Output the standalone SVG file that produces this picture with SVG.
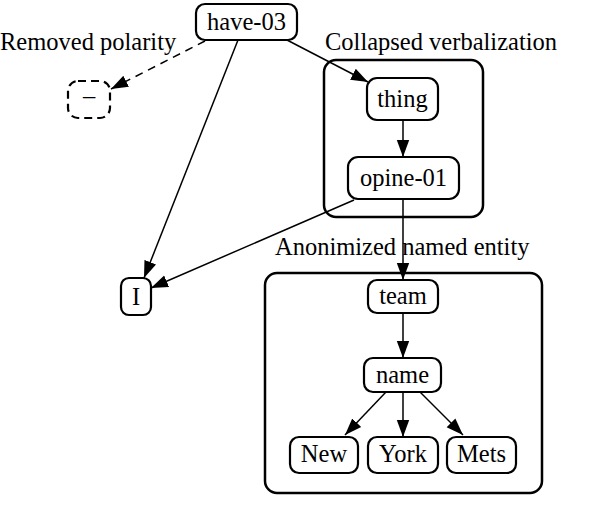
<svg xmlns="http://www.w3.org/2000/svg" width="592" height="528" viewBox="0 0 592 528">
<style>
text{font-family:"Liberation Serif","Times New Roman",serif;font-size:24.5px;fill:#000}
.lbl{text-anchor:middle}
.node{fill:#fff;stroke:#000;stroke-width:2.2}
.dash{fill:#fff;stroke:#000;stroke-width:2.2;stroke-dasharray:8 5}
.cluster{fill:none;stroke:#000;stroke-width:2.5}
.edge{fill:none;stroke:#000;stroke-width:1.5;marker-end:url(#arr)}
.edash{fill:none;stroke:#000;stroke-width:1.5;stroke-dasharray:8 6;marker-end:url(#arr)}
</style>
<defs>
<marker id="arr" markerUnits="userSpaceOnUse" markerWidth="18" markerHeight="14" viewBox="0 0 18 14" refX="17" refY="7" orient="auto">
<polygon points="0,0.8 17,7 0,13.2" fill="#000"/>
</marker>
</defs>
<rect width="592" height="528" fill="#fff"/>
<g id="clusters">
<rect id="cluster-collapsed" class="cluster" x="324" y="60" width="159" height="157" rx="12"/>
<rect id="cluster-ne" class="cluster" x="265" y="273" width="277" height="220" rx="12"/>
<text x="325" y="50">Collapsed verbalization</text>
<text x="275" y="255">Anonimized named entity</text>
<text x="0" y="50">Removed polarity</text>
</g>
<g id="edges">
<line class="edash" x1="205" y1="41" x2="111" y2="89"/>
<line class="edge" x1="238" y1="40" x2="144" y2="278"/>
<line class="edge" x1="287" y1="40" x2="368" y2="82"/>
<line class="edge" x1="403" y1="120" x2="403" y2="157"/>
<line class="edge" x1="354" y1="200" x2="151" y2="288"/>
<line class="edge" x1="403" y1="199" x2="403" y2="280"/>
<line class="edge" x1="403" y1="313" x2="403" y2="358"/>
<line class="edge" x1="386" y1="392" x2="345" y2="435"/>
<line class="edge" x1="403" y1="392" x2="403" y2="437"/>
<line class="edge" x1="420" y1="392" x2="463" y2="435"/>
</g>
<g id="n-have03"><rect class="node" x="196" y="4" width="101" height="36" rx="9"/><text class="lbl" x="246.5" y="30">have-03</text></g>
<g id="n-minus"><rect class="dash" x="68" y="81" width="42" height="37" rx="10"/><text class="lbl" x="89" y="104">–</text></g>
<g id="n-thing"><rect class="node" x="367" y="78" width="71" height="42" rx="10"/><text class="lbl" x="402.5" y="107">thing</text></g>
<g id="n-opine01"><rect class="node" x="348" y="157" width="111" height="42" rx="10"/><text class="lbl" x="403.5" y="186">opine-01</text></g>
<g id="n-I"><rect class="node" x="121" y="278" width="30" height="37" rx="8"/><text class="lbl" x="136" y="305">I</text></g>
<g id="n-team"><rect class="node" x="368" y="280" width="70" height="33" rx="9"/><text class="lbl" x="403" y="304">team</text></g>
<g id="n-name"><rect class="node" x="364" y="358" width="77" height="34" rx="9"/><text class="lbl" x="402.5" y="383">name</text></g>
<g id="n-new"><rect class="node" x="290" y="437" width="68" height="36" rx="9"/><text class="lbl" x="324" y="462">New</text></g>
<g id="n-york"><rect class="node" x="368" y="437" width="70" height="36" rx="9"/><text class="lbl" x="403" y="462">York</text></g>
<g id="n-mets"><rect class="node" x="447" y="437" width="69" height="36" rx="9"/><text class="lbl" x="481.5" y="462">Mets</text></g>
</svg>
